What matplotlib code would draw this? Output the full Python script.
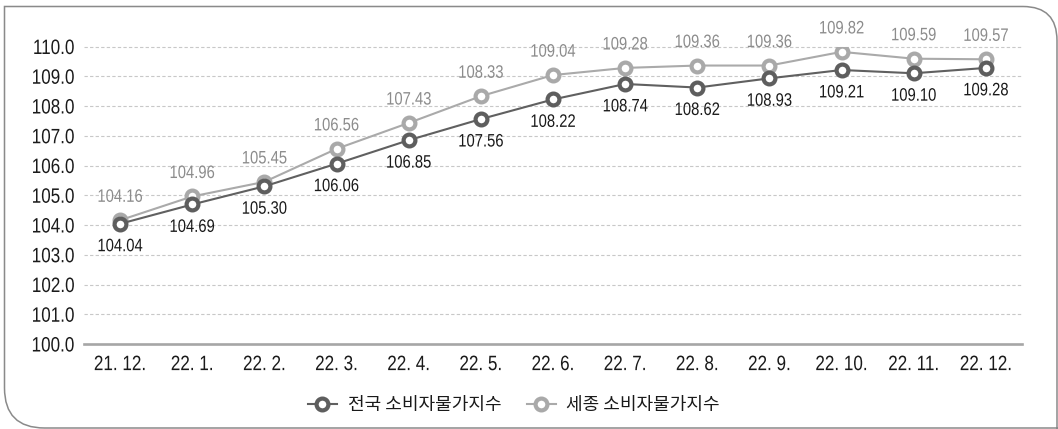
import matplotlib
matplotlib.use("Agg")
import matplotlib.pyplot as plt
from matplotlib.path import Path
from matplotlib.patches import PathPatch
from matplotlib.patheffects import AbstractPathEffect
from matplotlib.transforms import Affine2D

months = ["21. 12.", "22. 1.", "22. 2.", "22. 3.", "22. 4.", "22. 5.", "22. 6.",
          "22. 7.", "22. 8.", "22. 9.", "22. 10.", "22. 11.", "22. 12."]
national = [104.04, 104.69, 105.30, 106.06, 106.85, 107.56, 108.22,
            108.74, 108.62, 108.93, 109.21, 109.10, 109.28]
sejong = [104.16, 104.96, 105.45, 106.56, 107.43, 108.33, 109.04,
          109.28, 109.36, 109.36, 109.82, 109.59, 109.57]
names = ["전국 소비자물가지수", "세종 소비자물가지수"]
yticks = [100.0, 101.0, 102.0, 103.0, 104.0, 105.0, 106.0, 107.0, 108.0, 109.0, 110.0]

num_font = ["Liberation Sans", "DejaVu Sans"]
kr_font = ["Noto Sans CJK KR", "DejaVu Sans"]


class Narrow(AbstractPathEffect):
    """Squeeze text glyphs horizontally (no condensed font installed)."""

    def __init__(self, factor=0.82, anchor="center"):
        super().__init__()
        self.factor = factor
        self.anchor = anchor

    def draw_path(self, renderer, gc, tpath, affine, rgbFace=None):
        xs = tpath.vertices[:, 0]
        if len(xs) == 0:
            return
        if self.anchor == "right":
            cx = xs.max()
        elif self.anchor == "left":
            cx = xs.min()
        else:
            cx = 0.5 * (xs.min() + xs.max())
        squeeze = Affine2D().translate(-cx, 0).scale(self.factor, 1).translate(cx, 0)
        renderer.draw_path(gc, tpath, squeeze + affine, rgbFace)


W, H = 1058, 429
fig = plt.figure(figsize=(W / 100, H / 100), dpi=100)
ax = fig.add_axes([84 / W, (H - 344) / H, 938 / W, (344 - 46.5) / H])

x = list(range(len(months)))

# light series first so the dark one sits on top
l_sej, = ax.plot(x, sejong, color="#aaaaaa", lw=1.5, marker="o", ms=8.5, mew=3,
                 mec="#a9a9a9", mfc="white", zorder=3, label=names[1])
l_nat, = ax.plot(x, national, color="#606060", lw=1.5, marker="o", ms=8.5, mew=3,
                 mec="#5e5e5e", mfc="white", zorder=4, label=names[0])

for i in x:
    ax.annotate("%.2f" % sejong[i], (i, sejong[i]), xytext=(0, 16.5),
                textcoords="offset points", ha="center", va="center",
                fontsize=13, color="#8c8c8c", family=num_font,
                path_effects=[Narrow()])
    ax.annotate("%.2f" % national[i], (i, national[i]), xytext=(0, -16.5),
                textcoords="offset points", ha="center", va="center",
                fontsize=13, color="#1a1a1a", family=num_font,
                path_effects=[Narrow()])

ax.set_xlim(-0.5, len(months) - 0.5)
ax.set_ylim(100, 110)
ax.set_yticks(yticks)
ax.set_yticklabels(["%.1f" % v for v in yticks], family=num_font, fontsize=15, color="#1a1a1a")
ax.set_xticks(x)
ax.set_xticklabels(months, family=num_font, fontsize=15, color="#1a1a1a")
for t in ax.get_yticklabels():
    t.set_path_effects([Narrow(anchor="right")])
for t in ax.get_xticklabels():
    t.set_path_effects([Narrow()])
ax.tick_params(length=0)
ax.tick_params(axis="y", pad=6.5)
ax.tick_params(axis="x", pad=8)

for v in yticks[1:]:
    ax.axhline(v, color="#c8c8c8", lw=0.8, ls=(0, (3, 2)), zorder=1, clip_on=False)

for s in ["top", "right", "left"]:
    ax.spines[s].set_visible(False)
ax.spines["bottom"].set_color("#a6a6a6")
ax.spines["bottom"].set_linewidth(1.9)

leg = fig.legend(handles=[l_nat, l_sej], loc="center", bbox_to_anchor=(514 / W, 24 / H),
                 ncol=2, frameon=False, prop={"family": kr_font, "size": 13},
                 handlelength=1.6, handletextpad=0.6, columnspacing=1.4)
for t in leg.get_texts():
    t.set_color("#1a1a1a")

# outer frame: square top-left, rounded top-right and bottom-left
def px(xp, yp):
    return (xp / W, (H - yp) / H)

r1, r2 = 34, 40
left, top, right, bottom = 4.5, 6.5, 1057, 428
verts = [px(right, H + 20), px(right, top + r1), px(right, top),
         px(right - r1, top), px(left, top), px(left, bottom - r2), px(left, bottom),
         px(left + r2, bottom), px(W + 20, bottom)]
codes = [Path.MOVETO, Path.LINETO, Path.CURVE3, Path.CURVE3,
         Path.LINETO, Path.LINETO, Path.CURVE3, Path.CURVE3, Path.LINETO]
frame = PathPatch(Path(verts, codes), fill=False,
                  edgecolor="#8a8a8a", lw=1.1, transform=fig.transFigure)
fig.add_artist(frame)

fig.savefig("out.png", dpi=100)
